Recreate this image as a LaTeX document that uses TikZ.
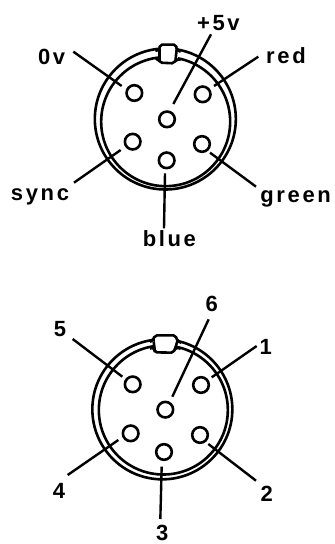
\documentclass[tikz,border=0pt]{standalone}
\usepackage{fontspec}
\setmainfont{Liberation Sans}[LetterSpace=12]
\tikzset{
  ink/.style={line width=2.4pt,black},
  ringline/.style={line width=2.6pt,black},
  pin/.style={circle,draw=black,line width=2.6pt,fill=white,minimum size=15.6pt,inner sep=0pt,outer sep=0pt},
  lab/.style={inner sep=0pt,font=\fontsize{22pt}{24pt}\selectfont\bfseries,text=black}
}
\begin{document}
\begin{tikzpicture}[x=0.33333pt,y=-0.33333pt]
\useasboundingbox (0,0) rectangle (1005,1632);
\fill[white] (0,0) rectangle (1005,1632);
% ---- upper connector
\draw[ringline] (496,357) circle [radius=70.5pt];
\draw[ringline] (497,365) circle [radius=64.5pt];
\fill[white] (474,140) rectangle (534,186);
\draw[ringline,rounded corners=2pt] (466,152) -- (478,150) -- (480,134) -- (528,134) -- (530,150) -- (542,155);
\draw[ringline,rounded corners=2pt] (466,176) -- (474,176) -- (480,188) -- (522,190) -- (528,178) -- (542,179);
\draw[ringline] (478,148) -- (478,184);
\draw[ringline] (530,148) -- (526,186);
\node[pin] (a0) at (403,279) {};
\node[pin] (a1) at (608,283) {};
\node[pin] (a5) at (501,358) {};
\node[pin] (a4) at (398,425) {};
\node[pin] (a2) at (606,432) {};
\node[pin] (a3) at (500,481) {};
\node[lab] (l0) at (155,171) {0v};
\node[lab] (l5) at (655,70) {+5v};
\node[lab] (l1) at (858,167) {red};
\node[lab] (l4) at (120,590) {sync};
\node[lab] (l2) at (887,597) {green};
\node[lab] (l3) at (508,717) {blue};
\coordinate (s0) at (220,155); \coordinate (e0) at (365,258);
\coordinate (s5) at (633,103); \coordinate (e5) at (520,312);
\coordinate (s1) at (775,170); \coordinate (e1) at (642,258);
\coordinate (s4) at (222,548); \coordinate (e4) at (362,450);
\coordinate (s2) at (768,560); \coordinate (e2) at (630,458);
\coordinate (s3) at (492,685); \coordinate (e3) at (495,520);
\foreach \i in {0,...,5} \draw[ink] (s\i) -- (e\i);
% ---- lower connector
\begin{scope}[yshift=-270pt]
\draw[ringline] (487,418) circle [radius=70pt];
\draw[ringline] (490,420) circle [radius=64.5pt];
\fill[white] (464,204) rectangle (528,244);
\draw[ringline,rounded corners=2pt] (450,215) -- (458,212) -- (465,196) -- (526,196) -- (533,214) -- (544,218);
\draw[ringline,rounded corners=2pt] (450,236) -- (460,232) -- (465,247) -- (520,248) -- (527,232) -- (542,236);
\draw[ringline] (461,214) -- (465,247);
\draw[ringline] (532,214) -- (524,240);
\node[pin] (b5) at (398,343) {};
\node[pin] (b1) at (603,345) {};
\node[pin] (b6) at (496,419) {};
\node[pin] (b4) at (392,490) {};
\node[pin] (b2) at (600,495) {};
\node[pin] (b3) at (492,546) {};
\node[lab] (n5) at (180,177) {5};
\node[lab] (n6) at (635,102) {6};
\node[lab] (n1) at (797,230) {1};
\node[lab] (n4) at (177,662) {4};
\node[lab] (n2) at (800,670) {2};
\node[lab] (n3) at (487,790) {3};
\coordinate (t5) at (218,207); \coordinate (f5) at (367,320);
\coordinate (t6) at (626,148); \coordinate (f6) at (517,380);
\coordinate (t1) at (770,228); \coordinate (f1) at (635,322);
\coordinate (t4) at (203,615); \coordinate (f4) at (355,510);
\coordinate (t2) at (768,632); \coordinate (f2) at (625,522);
\coordinate (t3) at (481,747); \coordinate (f3) at (485,590);
\foreach \i in {1,...,6} \draw[ink] (t\i) -- (f\i);
\end{scope}
\end{tikzpicture}
\end{document}
